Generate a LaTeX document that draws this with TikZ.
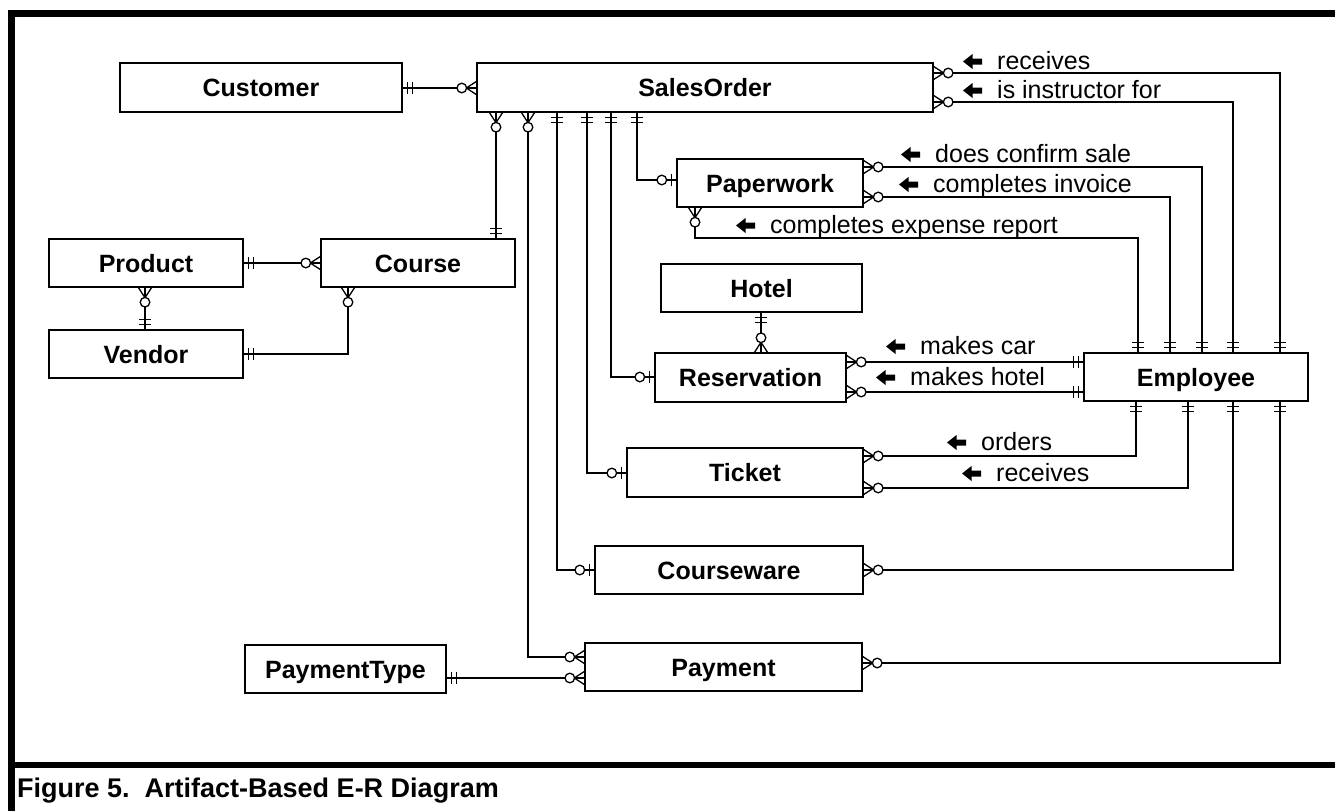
\documentclass[tikz,border=0pt]{standalone}
\usepackage{fontspec}
\setmainfont{Liberation Sans}
\newcommand\ERone[2]{\begin{scope}[shift={(#1)},rotate=#2]\draw[sym] (5,-6)--(5,6) (10,-6)--(10,6);\end{scope}}
\newcommand\ERzo[2]{\begin{scope}[shift={(#1)},rotate=#2]\draw[sym] (5,-6)--(5,6);\draw[sym,fill=white] (14.5,0) circle[radius=4.8];\end{scope}}
\newcommand\ERzm[2]{\begin{scope}[shift={(#1)},rotate=#2]\draw[sym] (0,-6.5)--(10,0)--(0,6.5);\draw[sym,fill=white] (14.5,0) circle[radius=4.8];\end{scope}}
\newcommand\LArrow[1]{\fill[shift={(#1.base west)}] (-34,-7.5) -- (-24.5,-15) -- (-24.5,-10.5) -- (-15,-10.5) -- (-15,-4.5) -- (-24.5,-4.5) -- (-24.5,0) -- cycle;}
\begin{document}
\begin{tikzpicture}[x={(1pt,0pt)},y={(0pt,-1pt)},
  ent/.style={draw,line width=1.4pt,inner sep=0pt,fill=white,text height=18pt,text depth=0pt,font=\fontsize{25}{30}\selectfont\bfseries},
  conn/.style={line width=1.4pt},
  sym/.style={line width=1.3pt},
  lab/.style={anchor=base west,inner sep=0pt,font=\fontsize{25}{30}\selectfont},
  frame/.style={line width=7pt}]
\useasboundingbox (0,0) rectangle (1335,811);
% frame
\draw[frame] (8,13.5) -- (1335,13.5);
\draw[line width=6pt] (8,765) -- (1335,765);
\draw[frame] (11.5,10) -- (11.5,811);
\node[anchor=base west,inner sep=0pt,font=\fontsize{27}{32}\selectfont\bfseries] (cap) at (17,797) {Figure 5.\ \ Artifact-Based E-R Diagram};
% coordinates
\coordinate (bA) at (496,0);
\coordinate (bB) at (528,0);
\coordinate (bC) at (557,0);
\coordinate (bD) at (587,0);
\coordinate (bE) at (611,0);
\coordinate (bF) at (637,0);
\coordinate (bG) at (695,0);
\coordinate (eA) at (1138,0);
\coordinate (eB) at (1170,0);
\coordinate (eC) at (1202,0);
\coordinate (eD) at (1233,0);
\coordinate (eE) at (1280,0);
\coordinate (eF) at (1136,0);
\coordinate (eG) at (1188,0);
\coordinate (xPV) at (145,0);
\coordinate (xCV) at (348,0);
\coordinate (xHR) at (761,0);
\coordinate (yCust) at (0,88);
\coordinate (yPa) at (0,657);
\coordinate (yPT) at (0,678);
\coordinate (yCw) at (0,570);
\coordinate (yTk) at (0,473);
\coordinate (yRs) at (0,377);
\coordinate (yPw) at (0,180);
\coordinate (yRcv) at (0,73);
\coordinate (yIns) at (0,102);
\coordinate (yConf) at (0,167);
\coordinate (yInv) at (0,197);
\coordinate (yExp) at (0,238);
\coordinate (yCar) at (0,362);
\coordinate (yHot) at (0,392);
\coordinate (yOrd) at (0,456);
\coordinate (yTrc) at (0,488);
\coordinate (yPay) at (0,663);
\coordinate (yPC) at (0,263);
\coordinate (yVd) at (0,354);
% entities
\node[ent,minimum width=282pt,minimum height=49pt] (Customer) at (261,87.5) {Customer};
\node[ent,minimum width=456pt,minimum height=49pt] (SalesOrder) at (705,87.5) {SalesOrder};
\node[ent,minimum width=186pt,minimum height=48pt] (Paperwork) at (770,183) {Paperwork};
\node[ent,minimum width=194pt,minimum height=48pt] (Product) at (146,263) {Product};
\node[ent,minimum width=194pt,minimum height=48pt] (Course) at (418,263) {Course};
\node[ent,minimum width=194pt,minimum height=48pt] (Vendor) at (146,354) {Vendor};
\node[ent,minimum width=201pt,minimum height=48pt] (Hotel) at (761.5,288) {Hotel};
\node[ent,minimum width=191pt,minimum height=49pt] (Reservation) at (750.5,377.5) {Reservation};
\node[ent,minimum width=224pt,minimum height=48pt] (Employee) at (1196,377) {Employee};
\node[ent,minimum width=236pt,minimum height=49pt] (Ticket) at (745,472.5) {Ticket};
\node[ent,minimum width=268pt,minimum height=48pt] (Courseware) at (729,570) {Courseware};
\node[ent,minimum width=277pt,minimum height=48pt] (Payment) at (723.5,667) {Payment};
\node[ent,minimum width=201pt,minimum height=48pt] (PaymentType) at (345.5,669) {PaymentType};
% connectors
\draw[conn] (Customer.east |- yCust) -- (SalesOrder.west |- yCust);
\draw[conn] (SalesOrder.south -| bA) -- (Course.north -| bA);
\draw[conn] (SalesOrder.south -| bB) |- (Payment.west |- yPa);
\draw[conn] (SalesOrder.south -| bC) |- (Courseware.west |- yCw);
\draw[conn] (SalesOrder.south -| bD) |- (Ticket.west |- yTk);
\draw[conn] (SalesOrder.south -| bE) |- (Reservation.west |- yRs);
\draw[conn] (SalesOrder.south -| bF) |- (Paperwork.west |- yPw);
\draw[conn] (SalesOrder.east |- yRcv) -| (Employee.north -| eE);
\draw[conn] (SalesOrder.east |- yIns) -| (Employee.north -| eD);
\draw[conn] (Paperwork.east |- yConf) -| (Employee.north -| eC);
\draw[conn] (Paperwork.east |- yInv) -| (Employee.north -| eB);
\draw[conn] (Paperwork.south -| bG) |- (eA |- yExp) -- (Employee.north -| eA);
\draw[conn] (Product.east |- yPC) -- (Course.west |- yPC);
\draw[conn] (Product.south -| xPV) -- (Vendor.north -| xPV);
\draw[conn] (Course.south -| xCV) |- (Vendor.east |- yVd);
\draw[conn] (Hotel.south -| xHR) -- (Reservation.north -| xHR);
\draw[conn] (Reservation.east |- yCar) -- (Employee.west |- yCar);
\draw[conn] (Reservation.east |- yHot) -- (Employee.west |- yHot);
\draw[conn] (Ticket.east |- yOrd) -| (Employee.south -| eF);
\draw[conn] (Ticket.east |- yTrc) -| (Employee.south -| eG);
\draw[conn] (Courseware.east |- yCw) -| (Employee.south -| eD);
\draw[conn] (Payment.east |- yPay) -| (Employee.south -| eE);
\draw[conn] (PaymentType.east |- yPT) -- (Payment.west |- yPT);
% cardinality symbols
\ERone{Customer.east |- yCust}{0}
\ERzm{SalesOrder.west |- yCust}{180}
\ERzm{SalesOrder.south -| bA}{-90}
\ERone{Course.north -| bA}{90}
\ERzm{SalesOrder.south -| bB}{-90}
\ERzm{Payment.west |- yPa}{180}
\ERone{SalesOrder.south -| bC}{-90}
\ERzo{Courseware.west |- yCw}{180}
\ERone{SalesOrder.south -| bD}{-90}
\ERzo{Ticket.west |- yTk}{180}
\ERone{SalesOrder.south -| bE}{-90}
\ERzo{Reservation.west |- yRs}{180}
\ERone{SalesOrder.south -| bF}{-90}
\ERzo{Paperwork.west |- yPw}{180}
\ERzm{SalesOrder.east |- yRcv}{0}
\ERone{Employee.north -| eE}{90}
\ERzm{SalesOrder.east |- yIns}{0}
\ERone{Employee.north -| eD}{90}
\ERzm{Paperwork.east |- yConf}{0}
\ERone{Employee.north -| eC}{90}
\ERzm{Paperwork.east |- yInv}{0}
\ERone{Employee.north -| eB}{90}
\ERzm{Paperwork.south -| bG}{-90}
\ERone{Employee.north -| eA}{90}
\ERone{Product.east |- yPC}{0}
\ERzm{Course.west |- yPC}{180}
\ERzm{Product.south -| xPV}{-90}
\ERone{Vendor.north -| xPV}{90}
\ERzm{Course.south -| xCV}{-90}
\ERone{Vendor.east |- yVd}{0}
\ERone{Hotel.south -| xHR}{-90}
\ERzm{Reservation.north -| xHR}{90}
\ERzm{Reservation.east |- yCar}{0}
\ERone{Employee.west |- yCar}{180}
\ERzm{Reservation.east |- yHot}{0}
\ERone{Employee.west |- yHot}{180}
\ERzm{Ticket.east |- yOrd}{0}
\ERone{Employee.south -| eF}{-90}
\ERzm{Ticket.east |- yTrc}{0}
\ERone{Employee.south -| eG}{-90}
\ERzm{Courseware.east |- yCw}{0}
\ERone{Employee.south -| eD}{-90}
\ERzm{Payment.east |- yPay}{0}
\ERone{Employee.south -| eE}{-90}
\ERone{PaymentType.east |- yPT}{0}
\ERzm{Payment.west |- yPT}{180}
% labels
\node[lab] (l1) at (997,69) {receives};
\node[lab] (l2) at (997,98) {is instructor for};
\node[lab] (l3) at (935,162) {does confirm sale};
\node[lab] (l4) at (933,192) {completes invoice};
\node[lab] (l5) at (770,233) {completes expense report};
\node[lab] (l6) at (920,354) {makes car};
\node[lab] (l7) at (910,385) {makes hotel};
\node[lab] (l8) at (981,450) {orders};
\node[lab] (l9) at (996,481) {receives};
\LArrow{l1}\LArrow{l2}\LArrow{l3}\LArrow{l4}\LArrow{l5}
\LArrow{l6}\LArrow{l7}\LArrow{l8}\LArrow{l9}
\end{tikzpicture}
\end{document}
